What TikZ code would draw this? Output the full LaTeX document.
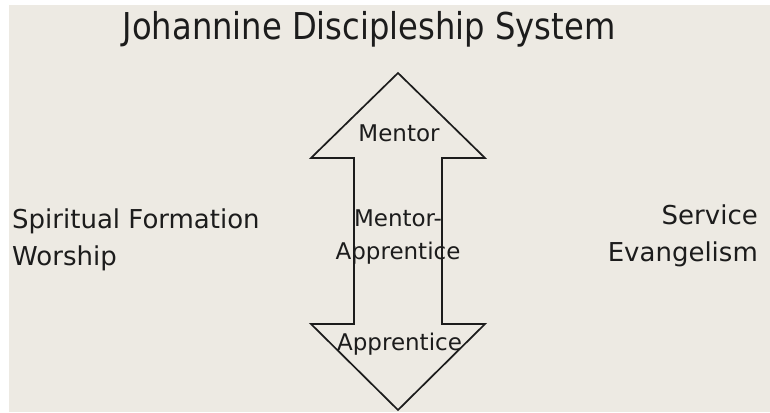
\documentclass[tikz,border=0pt]{standalone}
\usepackage{fontspec}
\setmainfont{DejaVu Sans}
\newfontfamily\titlefont[FakeStretch=0.87]{DejaVu Sans}
\definecolor{paper}{HTML}{EDEAE3}
\definecolor{ink}{HTML}{1C1C1C}
\begin{document}
\begin{tikzpicture}[x=1pt, y=-1pt, line join=miter, line cap=butt,
	side/.style={text=ink, inner sep=0pt, font=\fontsize{26}{37}\selectfont},
	lbl/.style={text=ink, inner sep=0pt, font=\fontsize{23}{33}\selectfont}]
	\def\xmax{770} \def\ymax{412}
	\fill[white] (0,0) rectangle (\xmax,\ymax);
	\fill[paper] (9,5) rectangle (\xmax,\ymax);
	\useasboundingbox (0,0) rectangle (\xmax,\ymax);
	% Pfeil
	\coordinate (tip) at (398,73);
	\coordinate (hl) at (311,158); \coordinate (hr) at (485,158);
	\coordinate (sl) at (354,158); \coordinate (sr) at (442,158);
	\coordinate (bl) at (354,324); \coordinate (br) at (442,324);
	\coordinate (tl) at (311,324); \coordinate (tr) at (485,324);
	\coordinate (bot) at (398,410);
	\draw[ink, line width=1.7pt] (tip)--(hr)--(sr)--(br)--(tr)--(bot)--(tl)--(bl)--(sl)--(hl)--cycle;
	% Texte (base = letzte Zeile)
	\node[text=ink, inner sep=0pt, anchor=base, font=\titlefont\fontsize{37}{40}\selectfont] (title) at (369,40) {Johannine Discipleship System};
	\node[side, anchor=base west, align=left] (left) at (12,265) {Spiritual Formation\\Worship};
	\node[side, anchor=base east, align=right] (right) at (758,261) {Service\\Evangelism};
	\node[lbl, anchor=base] (mentor) at (399,141) {Mentor};
	\node[lbl, anchor=base, align=center] (mid) at (398,259) {Mentor-\\Apprentice};
	\node[lbl, anchor=base] (appr) at (399.5,350) {Apprentice};
\end{tikzpicture}
\end{document}
